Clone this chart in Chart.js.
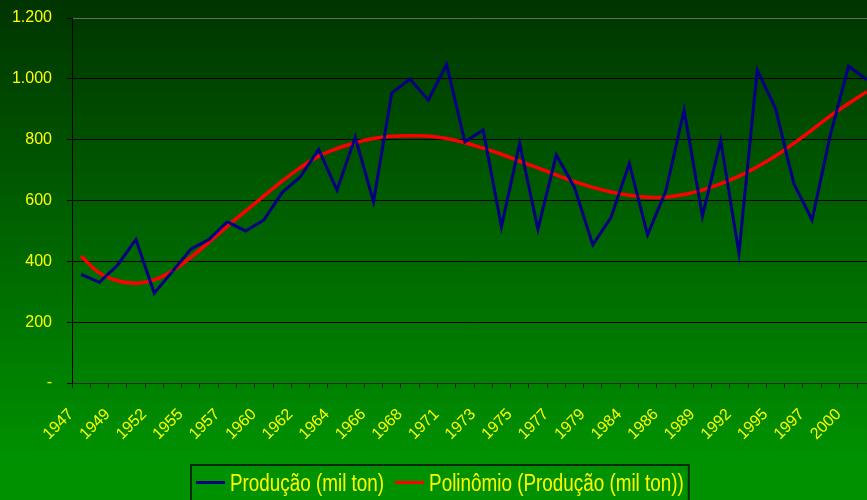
<!DOCTYPE html>
<html>
<head>
<meta charset="utf-8">
<script src="https://cdn.jsdelivr.net/npm/chart.js@4/dist/chart.umd.min.js"></script>
<style>
  html, body { margin: 0; padding: 0; background: #009100; }
  #wrap { width: 867px; height: 500px; overflow: hidden; }
  canvas { display: block; }
</style>
</head>
<body>
<div id="wrap"><canvas id="chart" width="880" height="500"></canvas></div>
<script>
// categories: only every other one carries a label in the source
const categories = [
  '1947', '', '1949', '', '1952', '', '1955', '', '1957', '', '1960', '',
  '1962', '', '1964', '', '1966', '', '1968', '', '1971', '', '1973', '',
  '1975', '', '1977', '', '1979', '', '1984', '', '1986', '', '1989', '',
  '1992', '', '1995', '', '1997', '', '2000', '',
]

const production = [
  357, 331, 388, 472, 295, 367, 440, 472, 530, 500, 536, 626,
  678, 768, 634, 808, 596, 954, 999, 930, 1048, 793, 832, 514,
  788, 505, 750, 643, 454, 545, 722, 487, 632, 897, 549, 797,
  426, 1029, 903, 656, 536, 815, 1042, 997,
]

// polynomial trend line
const trend = [
  417, 362, 336, 328, 339, 369, 413, 463, 515, 565, 615, 664,
  708, 746, 771, 790, 804, 811, 813, 812, 804, 790, 772, 752,
  729, 707, 684, 662, 643, 628, 617, 611, 611, 620, 634, 655,
  680, 711, 746, 788, 832, 878, 919, 958,
]

const yTicks = [0, 200, 400, 600, 800, 1000, 1200]
const yTickLabels = ['-', '200', '400', '600', '800', '1.000', '1.200']

const seriesNames = ['Produção (mil ton)', 'Polinômio (Produção (mil ton))']

const FONT = '"Liberation Sans", Arial, sans-serif'
const YELLOW = '#ffff00'

const backdrop = {
  id: 'backdrop',
  beforeDraw(chart) {
    const { ctx, width, height } = chart
    const grad = ctx.createLinearGradient(0, 0, 0, 460)
    grad.addColorStop(0, '#003400')
    grad.addColorStop(1, '#009100')
    ctx.save()
    ctx.fillStyle = grad
    ctx.fillRect(0, 0, width, height)
    ctx.restore()
  },
}

// Excel-style legend: framed, condensed text
const boxLegend = {
  id: 'boxLegend',
  afterDraw(chart) {
    const { ctx } = chart
    const squeeze = 0.82
    const lineLen = 29
    const gap = 5
    const spacing = 11
    const pad = 5
    ctx.save()
    ctx.font = `23px ${FONT}`
    const items = chart.data.datasets.map((ds) => ({
      label: ds.label,
      color: ds.borderColor,
      w: ctx.measureText(ds.label).width * squeeze,
    }))
    const total = pad * 2 + spacing * (items.length - 1) +
      items.reduce((s, it) => s + lineLen + gap + it.w, 0)
    let x = Math.round(chart.width / 2 - total / 2)

    ctx.strokeStyle = '#0c2a0c'
    ctx.lineWidth = 2
    ctx.strokeRect(x, 465, total, 60)

    x += pad
    items.forEach((it) => {
      ctx.strokeStyle = it.color
      ctx.lineWidth = 3
      ctx.beginPath()
      ctx.moveTo(x, 482.5)
      ctx.lineTo(x + lineLen, 482.5)
      ctx.stroke()
      x += lineLen + gap

      ctx.save()
      ctx.translate(x, 0)
      ctx.scale(squeeze, 1)
      ctx.fillStyle = YELLOW
      ctx.textBaseline = 'alphabetic'
      ctx.textAlign = 'left'
      ctx.fillText(it.label, 0, 491)
      ctx.restore()
      x += it.w + spacing
    })
    ctx.restore()
  },
}

new Chart(document.getElementById('chart'), {
  type: 'line',
  data: {
    labels: categories,
    datasets: [
      {
        label: seriesNames[0],
        data: production,
        borderColor: '#000080',
        borderWidth: 3,
        pointRadius: 0,
        tension: 0,
        borderJoinStyle: 'miter',
      },
      {
        label: seriesNames[1],
        data: trend,
        borderColor: '#ff0000',
        borderWidth: 3.5,
        pointRadius: 0,
        tension: 0.4,
      },
    ],
  },
  options: {
    responsive: false,
    animation: false,
    devicePixelRatio: 1,
    layout: { autoPadding: false, padding: { left: 0, top: 18, right: 4, bottom: 0 } },
    plugins: {
      legend: { display: false },
      tooltip: { enabled: false },
    },
    scales: {
      x: {
        offset: true,
        grid: {
          offset: true,
          drawOnChartArea: false,
          drawTicks: true,
          tickLength: 5,
          tickColor: '#1a1a1a',
        },
        border: { display: true, color: '#2a2a2a', width: 1 },
        ticks: {
          autoSkip: false,
          minRotation: 45,
          maxRotation: 45,
          padding: 17,
          labelOffset: -10,
          color: YELLOW,
          font: { size: 16, family: FONT },
        },
        afterFit(scale) {
          scale.height = 117
          scale.paddingLeft = 0
          scale.paddingRight = 0
        },
      },
      y: {
        min: 0,
        max: 1200,
        afterBuildTicks(scale) { scale.ticks = yTicks.map((v) => ({ value: v })) },
        grid: {
          color: (c) => (c.tick && c.tick.value === 1200 ? '#6a6a6a' : '#000000'),
          lineWidth: 1,
          tickLength: 5,
          tickColor: '#000000',
        },
        border: { display: true, color: '#000000', width: 1 },
        ticks: {
          padding: 15,
          color: YELLOW,
          font: { size: 16, family: FONT },
          callback: (value) => yTickLabels[yTicks.indexOf(value)],
        },
        afterFit(scale) {
          scale.width = 72
          scale.paddingTop = 0
          scale.paddingBottom = 0
        },
      },
    },
  },
  plugins: [backdrop, boxLegend],
})
</script>
</body>
</html>
